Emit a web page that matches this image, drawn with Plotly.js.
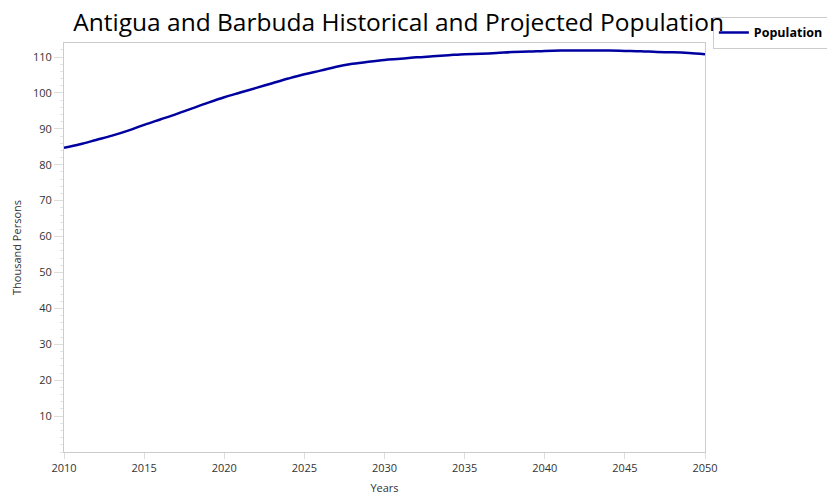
<!DOCTYPE html>
<html>
<head>
<meta charset="utf-8">
<script src="https://cdn.plot.ly/plotly-3.0.1.min.js"></script>
<style>html,body{margin:0;padding:0;background:#fff;}#chart{width:827px;height:495px;}</style>
</head>
<body>
<div id="chart"></div>
<script>
const years = [2010,2011,2012,2013,2014,2015,2016,2017,2018,2019,2020,2021,2022,2023,2024,2025,2026,2027,2028,2029,2030,2031,2032,2033,2034,2035,2036,2037,2038,2039,2040,2041,2042,2043,2044,2045,2046,2047,2048,2049,2050];
const population = [84.7,85.7,86.9,88.1,89.5,91.1,92.6,94.1,95.7,97.3,98.8,100.1,101.4,102.7,104.0,105.2,106.2,107.3,108.1,108.7,109.2,109.5,109.9,110.2,110.5,110.8,110.9,111.1,111.4,111.5,111.7,111.8,111.8,111.8,111.8,111.7,111.6,111.4,111.3,111.1,110.8];
const seriesName = 'Population';
const chartTitle = 'Antigua and Barbuda Historical and Projected Population';
const xTitle = 'Years';
const yTitle = 'Thousand Persons';

const font = '"Open Sans", "Noto Sans", sans-serif';
Plotly.newPlot('chart', [{
  x: years, y: population, type: 'scatter', mode: 'lines', name: seriesName,
  line: {color: '#0000a0', width: 2.5, shape: 'spline'}
}], {
  width: 827, height: 495,
  margin: {l: 64, r: 122, t: 43, b: 43, autoexpand: false},
  paper_bgcolor: '#fff', plot_bgcolor: '#fff',
  font: {family: font, color: '#333', size: 11},
  title: {text: chartTitle, font: {family: font, size: 24.5, color: '#000'}, xref: 'container', x: 0.482, xanchor: 'center', yref: 'container', y: 0.955, yanchor: 'middle'},
  showlegend: true,
  legend: {xref: 'container', yref: 'container', x: 0.862, y: 0.966, xanchor: 'left', yanchor: 'top', bordercolor: '#ccc', borderwidth: 1, bgcolor: '#fff',
    font: {family: font, size: 12.5, color: '#000', weight: 'bold'}, itemwidth: 20, tracegroupgap: 0},
  xaxis: {
    range: [2010, 2050], tickvals: [2010,2015,2020,2025,2030,2035,2040,2045,2050],
    showgrid: false, zeroline: false, showline: true, linecolor: '#ccc', linewidth: 1, mirror: true,
    ticks: 'outside', ticklen: 6, tickcolor: '#ddd', tickfont: {size: 11, color: '#333'},
    title: {text: xTitle, font: {size: 11, color: '#333'}, standoff: 12}
  },
  yaxis: {
    range: [0, 113.9], tickvals: [10,20,30,40,50,60,70,80,90,100,110],
    showgrid: false, zeroline: false, showline: true, linecolor: '#ccc', linewidth: 1, mirror: true,
    ticks: 'outside', ticklen: 9, tickcolor: '#ddd', tickfont: {size: 11, color: '#333'},
    minor: {dtick: 2, ticks: 'outside', ticklen: 3, tickcolor: '#e4e4e4', showgrid: false},
    title: {text: yTitle, font: {size: 11, color: '#333'}, standoff: 9}
  }
}, {staticPlot: true, displayModeBar: false});
</script>
</body>
</html>
